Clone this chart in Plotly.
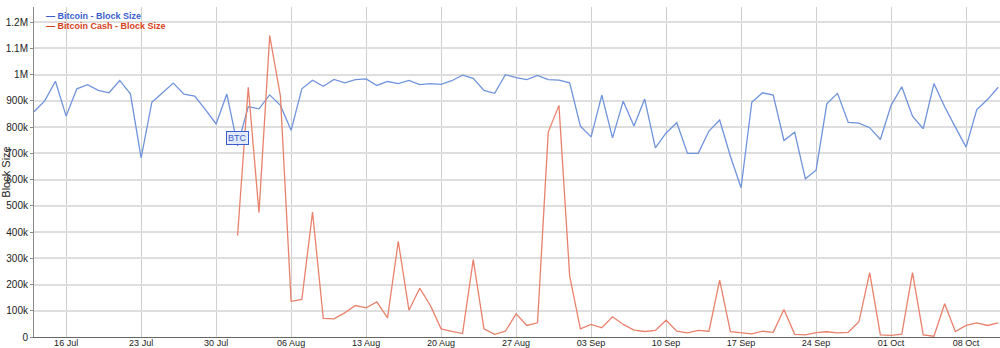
import plotly.graph_objects as go
import pandas as pd

btc_dates = pd.date_range("2017-07-13", "2017-10-11", freq="D")
btc_size = [
    859, 900, 975, 842, 946, 962, 940, 931, 978, 927,   # Jul 13-22
    683, 895, 931, 968, 926, 918, 867, 812, 926,        # Jul 23-31
    730, 878, 870, 923, 883, 788, 946, 979, 956, 982,   # Aug 1-10
    969, 981, 984, 959, 974, 966, 978, 962, 966, 963,   # Aug 11-20
    977, 998, 986, 940, 929, 1000, 989, 981, 997, 981, 979,  # Aug 21-31
    969, 804, 763, 922, 759, 899, 804, 907, 721, 778,   # Sep 1-10
    817, 700, 700, 785, 827, 689, 569, 895, 931, 922,   # Sep 11-20
    749, 781, 603, 636, 889, 929, 818, 815, 798, 753,   # Sep 21-30
    883, 954, 842, 794, 966, 878, 800, 724, 867, 905, 952,  # Oct 1-11
]
btc_size = [v * 1000 for v in btc_size]

bch_dates = pd.date_range("2017-08-01", "2017-10-11", freq="D")
bch_size = [
    387, 952, 474, 1149, 918, 136, 143, 476, 71, 69,    # Aug 1-10
    92, 120, 111, 134, 73, 365, 102, 186, 120, 31,      # Aug 11-20
    21, 13, 295, 31, 10, 22, 88, 44, 54, 781, 883,      # Aug 21-31
    232, 31, 48, 35, 77, 48, 26, 21, 25, 64,            # Sep 1-10
    22, 16, 25, 22, 217, 20, 16, 12, 22, 18,            # Sep 11-20
    105, 10, 8, 17, 20, 16, 18, 58, 245, 8,             # Sep 21-30
    6, 11, 245, 8, 3, 127, 21, 44, 54, 44, 54,          # Oct 1-11
]
bch_size = [v * 1000 for v in bch_size]

y_tickvals = [0, 100000, 200000, 300000, 400000, 500000, 600000,
              700000, 800000, 900000, 1000000, 1100000, 1200000]
y_ticktext = ["0", "100k", "200k", "300k", "400k", "500k", "600k",
              "700k", "800k", "900k", "1M", "1.1M", "1.2M"]

series_names = ["Bitcoin - Block Size", "Bitcoin Cash - Block Size"]
line_colors = ["#6f93dc", "#e8826c"]
text_colors = ["#3a5fcd", "#d8401c"]

FONT = "Liberation Sans, Arial, Helvetica, sans-serif"

fig = go.Figure()
fig.add_trace(go.Scatter(x=btc_dates, y=btc_size, mode="lines",
                         name=series_names[0],
                         line=dict(color=line_colors[0], width=1.3)))
fig.add_trace(go.Scatter(x=bch_dates, y=bch_size, mode="lines",
                         name=series_names[1],
                         line=dict(color=line_colors[1], width=1.3)))

# BTC flag marker
fig.add_annotation(x=btc_dates[19], y=btc_size[19], text="BTC",
                   showarrow=True, arrowhead=0, arrowwidth=1,
                   arrowcolor=text_colors[0], ax=0, ay=-8,
                   font=dict(family=FONT, size=9, color=text_colors[0]),
                   bgcolor="rgba(225,233,250,0.95)", bordercolor=text_colors[0],
                   borderwidth=1, borderpad=1)

# Custom legend (short dash + coloured text)
for i, (name, col) in enumerate(zip(series_names, text_colors)):
    ypos = 0.973 - i * 0.031
    fig.add_annotation(xref="paper", yref="paper", x=0.0105, y=ypos,
                       xanchor="left", yanchor="middle", showarrow=False,
                       text="<b>\u2014 " + name + "</b>",
                       font=dict(family=FONT, size=9, color=col))

fig.update_layout(
    width=1000, height=348,
    margin=dict(l=34, r=0, t=7, b=11),
    paper_bgcolor="white", plot_bgcolor="white",
    showlegend=False,
    font=dict(family=FONT, size=10, color="#333"),
    xaxis=dict(
        type="date",
        range=["2017-07-13", "2017-10-11 04:00"],
        tick0="2017-07-16", dtick=7 * 24 * 3600 * 1000,
        tickformat="%d %b",
        showgrid=True, gridcolor="#cfcfcf", gridwidth=1,
        showline=True, linecolor="#666", linewidth=1,
        ticks="", tickfont=dict(size=9, color="#222"),
        ticklabelstandoff=-3,
        automargin=False, zeroline=False,
    ),
    yaxis=dict(
        range=[0, 1258000],
        tickvals=y_tickvals, ticktext=y_ticktext,
        showgrid=True, gridcolor="#dedede", gridwidth=1.5,
        showline=True, linecolor="#888", linewidth=1,
        ticks="outside", ticklen=3, tickcolor="#888",
        tickfont=dict(size=10, color="#222"),
        title=dict(text="Block Size", font=dict(size=11, color="#222"), standoff=4),
        automargin=False, zeroline=False,
    ),
)

fig.write_html("out.html")
